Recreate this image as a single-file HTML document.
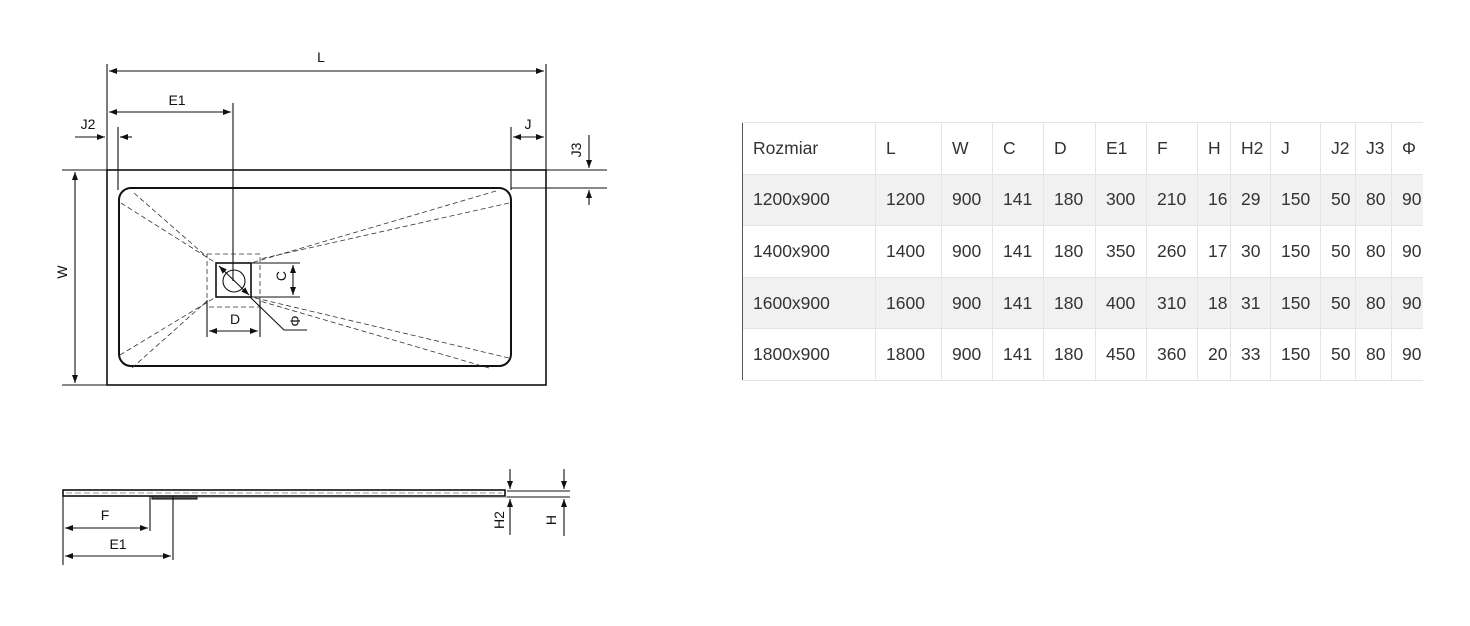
<!DOCTYPE html>
<html><head><meta charset="utf-8"><style>
body{margin:0;background:#fff;width:1470px;height:626px;overflow:hidden;position:relative;font-family:"Liberation Sans",Arial,sans-serif}
svg{position:absolute;left:0;top:0}
table{position:absolute;left:742px;top:122px;border-collapse:collapse;font-size:17.5px;color:#333;table-layout:fixed}
td{height:51.6px;padding:0 0 0 10px;border-left:1px solid #e4e4e4;border-top:1px solid #e4e4e4;box-sizing:border-box;white-space:nowrap;overflow:hidden}
tr.g td{background:#f1f1f1}
tr:last-child td{border-bottom:1px solid #e4e4e4}
td:first-child{border-left:1px solid #555}
</style></head><body>
<svg width="1470" height="626" viewBox="0 0 1470 626" font-family="Liberation Sans,Arial,sans-serif" font-size="14" fill="none" stroke="#111" stroke-width="1.1">
<defs><marker id="a" markerWidth="8" markerHeight="6" refX="8" refY="3" orient="auto-start-reverse" markerUnits="userSpaceOnUse"><path d="M0,0L8,3L0,6z" fill="#111" stroke="none"/></marker></defs>
<rect x="107" y="170" width="439" height="215" stroke-width="1.6"/>
<rect x="119" y="188" width="392" height="178" rx="12" stroke-width="2"/>
<line x1="107" y1="64" x2="107" y2="170"/><line x1="546" y1="64" x2="546" y2="170"/>
<line x1="109" y1="71" x2="544" y2="71" marker-start="url(#a)" marker-end="url(#a)"/>
<line x1="109" y1="112" x2="231" y2="112" marker-start="url(#a)" marker-end="url(#a)"/>
<line x1="233" y1="103" x2="233" y2="281"/>
<line x1="118" y1="127" x2="118" y2="190"/><line x1="511" y1="127" x2="511" y2="190"/>
<line x1="75" y1="137" x2="105" y2="137" marker-end="url(#a)"/><line x1="132" y1="137" x2="120" y2="137" marker-end="url(#a)"/>
<line x1="513" y1="137" x2="544" y2="137" marker-start="url(#a)" marker-end="url(#a)"/>
<line x1="62" y1="170" x2="607" y2="170"/><line x1="511" y1="188" x2="607" y2="188"/>
<line x1="589" y1="135" x2="589" y2="168" marker-end="url(#a)"/><line x1="589" y1="205" x2="589" y2="190" marker-end="url(#a)"/>
<line x1="62" y1="385" x2="107" y2="385"/>
<line x1="75" y1="172" x2="75" y2="383" marker-start="url(#a)" marker-end="url(#a)"/>
<g stroke-dasharray="5,3" stroke-width="0.8" stroke="#333">
<line x1="121" y1="203" x2="216" y2="263"/><line x1="134" y1="193" x2="207" y2="257"/>
<line x1="496" y1="191" x2="251" y2="263"/><line x1="509" y1="203" x2="260" y2="259"/>
<line x1="509" y1="358" x2="251" y2="297"/><line x1="489" y1="368" x2="260" y2="301"/>
<line x1="120" y1="355" x2="216" y2="297"/><line x1="132" y1="368" x2="207" y2="301"/>
<rect x="207" y="254" width="53" height="53"/>
</g>
<rect x="216" y="263" width="35" height="34" stroke-width="1.6"/>
<circle cx="234" cy="281" r="11"/>
<line x1="219" y1="266" x2="249" y2="295" marker-start="url(#a)" marker-end="url(#a)"/>
<line x1="251" y1="263" x2="300" y2="263"/><line x1="251" y1="297" x2="300" y2="297"/>
<line x1="293" y1="265" x2="293" y2="295" marker-start="url(#a)" marker-end="url(#a)"/>
<line x1="207" y1="300" x2="207" y2="337"/><line x1="260" y1="300" x2="260" y2="337"/>
<line x1="209" y1="331" x2="258" y2="331" marker-start="url(#a)" marker-end="url(#a)"/>
<polyline points="250,297 284,330 307,330"/>
<g fill="#111" stroke="none">
<text x="321" y="62" text-anchor="middle">L</text>
<text x="177" y="105" text-anchor="middle">E1</text>
<text x="88" y="129" text-anchor="middle">J2</text>
<text x="528" y="129" text-anchor="middle">J</text>
<text transform="translate(581,150) rotate(-90)" text-anchor="middle">J3</text>
<text transform="translate(67,272) rotate(-90)" text-anchor="middle">W</text>
<text transform="translate(286,276) rotate(-90)" text-anchor="middle">C</text>
<text x="235" y="324" text-anchor="middle">D</text>
<text transform="translate(300,321) rotate(-90)" text-anchor="middle">Φ</text>
<text x="105" y="520" text-anchor="middle">F</text>
<text x="118" y="549" text-anchor="middle">E1</text>
<text transform="translate(504,520) rotate(-90)" text-anchor="middle">H2</text>
<text transform="translate(556,520) rotate(-90)" text-anchor="middle">H</text>
</g>
<rect x="63" y="490" width="442" height="6" stroke-width="1.6"/>
<line x1="66" y1="493" x2="502" y2="493" stroke="#999" stroke-dasharray="6,3"/>
<rect x="152" y="496" width="45" height="3" fill="#555"/>
<line x1="197" y1="497" x2="519" y2="497" stroke="#888"/>
<line x1="63" y1="496" x2="63" y2="565"/><line x1="150" y1="496" x2="150" y2="531"/><line x1="173" y1="496" x2="173" y2="560"/>
<line x1="65" y1="528" x2="148" y2="528" marker-start="url(#a)" marker-end="url(#a)"/>
<line x1="65" y1="556" x2="171" y2="556" marker-start="url(#a)" marker-end="url(#a)"/>
<line x1="507" y1="491" x2="570" y2="491"/><line x1="507" y1="497" x2="570" y2="497"/>
<line x1="510" y1="469" x2="510" y2="489" marker-end="url(#a)"/><line x1="510" y1="535" x2="510" y2="499" marker-end="url(#a)"/>
<line x1="564" y1="469" x2="564" y2="489" marker-end="url(#a)"/><line x1="564" y1="536" x2="564" y2="499" marker-end="url(#a)"/>
</svg>
<table>
<colgroup><col style="width:133px"><col style="width:66px"><col style="width:51px"><col style="width:51px"><col style="width:52px"><col style="width:51px"><col style="width:51px"><col style="width:33px"><col style="width:40px"><col style="width:50px"><col style="width:35px"><col style="width:36px"><col style="width:31px"></colgroup>
<tr><td>Rozmiar</td><td>L</td><td>W</td><td>C</td><td>D</td><td>E1</td><td>F</td><td>H</td><td>H2</td><td>J</td><td>J2</td><td>J3</td><td>Φ</td></tr>
<tr class="g"><td>1200x900</td><td>1200</td><td>900</td><td>141</td><td>180</td><td>300</td><td>210</td><td>16</td><td>29</td><td>150</td><td>50</td><td>80</td><td>90</td></tr>
<tr><td>1400x900</td><td>1400</td><td>900</td><td>141</td><td>180</td><td>350</td><td>260</td><td>17</td><td>30</td><td>150</td><td>50</td><td>80</td><td>90</td></tr>
<tr class="g"><td>1600x900</td><td>1600</td><td>900</td><td>141</td><td>180</td><td>400</td><td>310</td><td>18</td><td>31</td><td>150</td><td>50</td><td>80</td><td>90</td></tr>
<tr><td>1800x900</td><td>1800</td><td>900</td><td>141</td><td>180</td><td>450</td><td>360</td><td>20</td><td>33</td><td>150</td><td>50</td><td>80</td><td>90</td></tr>
</table>
</body></html>
